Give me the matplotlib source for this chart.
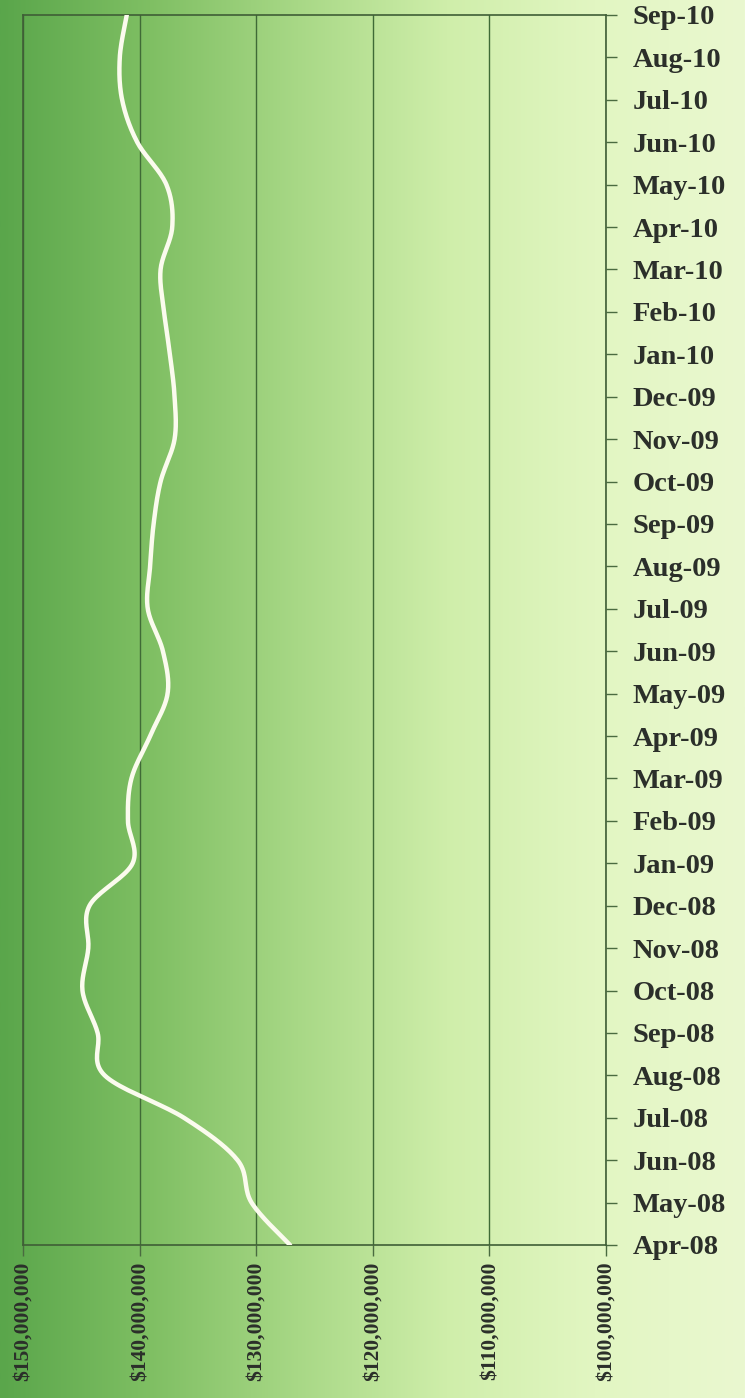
import numpy as np
import matplotlib
matplotlib.use("Agg")
import matplotlib.pyplot as plt
from matplotlib.colors import LinearSegmentedColormap

# monthly values, $ millions, Apr-08 .. Sep-10
months = ["Apr-08", "May-08", "Jun-08", "Jul-08", "Aug-08", "Sep-08", "Oct-08",
          "Nov-08", "Dec-08", "Jan-09", "Feb-09", "Mar-09", "Apr-09", "May-09",
          "Jun-09", "Jul-09", "Aug-09", "Sep-09", "Oct-09", "Nov-09", "Dec-09",
          "Jan-10", "Feb-10", "Mar-10", "Apr-10", "May-10", "Jun-10", "Jul-10",
          "Aug-10", "Sep-10"]
values = [127.1, 130.4, 131.6, 136.2, 143.0, 143.6, 144.9, 144.4, 144.3, 140.6,
          141.0, 140.7, 139.1, 137.6, 138.0, 139.3, 139.1, 138.8, 138.2, 137.0,
          137.0, 137.4, 137.9, 138.2, 137.2, 137.7, 140.2, 141.5, 141.7, 141.1]
value_ticks = [150, 140, 130, 120, 110, 100]

bg_colors = ["#5aa64b", "#7fbf63", "#a8d886", "#cfeeaa", "#e2f6c2", "#eaf8d0"]


def smooth(xs, ys, n=20):
    """Catmull-Rom curve through the points (Excel-style smoothed line)."""
    p = np.column_stack([xs, ys]).astype(float)
    p = np.vstack([p[0], p, p[-1]])
    out = []
    t = np.linspace(0, 1, n, endpoint=False)[:, None]
    for i in range(1, len(p) - 2):
        p0, p1, p2, p3 = p[i - 1], p[i], p[i + 1], p[i + 2]
        seg = 0.5 * ((2 * p1) + (-p0 + p2) * t + (2 * p0 - 5 * p1 + 4 * p2 - p3) * t ** 2
                     + (-p0 + 3 * p1 - 3 * p2 + p3) * t ** 3)
        out.append(seg)
    out.append(p[-2][None, :])
    out = np.vstack(out)
    return out[:, 0], out[:, 1]


fig = plt.figure(figsize=(7.45, 13.98), dpi=100)

# background gradient over whole figure
bg = fig.add_axes([0, 0, 1, 1], zorder=-10)
cmap = LinearSegmentedColormap.from_list("bg", bg_colors)
bg.imshow(np.linspace(0, 1, 256)[None, :], aspect="auto", cmap=cmap,
          extent=[0, 1, 0, 1])
bg.axis("off")

ax = fig.add_axes([23 / 745, 153 / 1398, 583 / 745, 1230 / 1398])
ax.set_facecolor("none")

pos = np.arange(len(months))
sx, sy = smooth(values, pos)
ax.plot(sx, sy, color="#fbfbee", lw=3.2, solid_capstyle="round", zorder=3)

ax.set_xlim(150, 100)
ax.set_ylim(0, len(months) - 1)
ax.set_xticks(value_ticks)
ax.set_xticklabels([f"${v * 1e6:,.0f}" for v in value_ticks], rotation=90,
                   family="Liberation Serif", fontweight="bold", fontsize=15.5,
                   color="#2b2f2a", va="top")
ax.set_yticks(pos)
ax.set_yticklabels(months, family="Liberation Serif", fontweight="bold",
                   fontsize=20.5, color="#2b2f2a")
ax.yaxis.tick_right()
ax.tick_params(axis="y", length=8, width=1, color="#4a6b40", pad=11)
ax.tick_params(axis="x", length=8, width=1, color="#4a6b40", pad=4)

ax.grid(axis="x", color="#3f6a36", lw=1.0)
for s in ax.spines.values():
    s.set_color("#3f5e36")
    s.set_linewidth(1.2)

fig.savefig("out.png", dpi=100)
